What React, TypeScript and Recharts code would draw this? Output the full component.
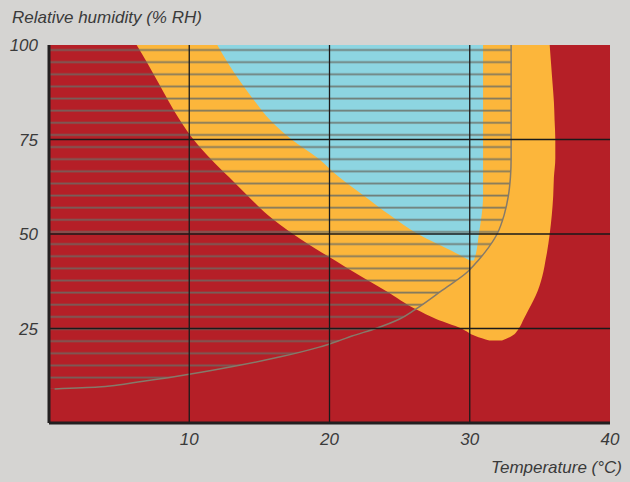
import React from 'react';
import { ComposedChart, Area, Line, XAxis, YAxis, CartesianGrid, ReferenceLine } from 'recharts';

// Tick labels
const xTicks = [10, 20, 30, 40];
const yTicks = [25, 50, 75, 100];
const xGrid = [10, 20, 30];
const yGrid = [25, 50, 75];

// Common relative-humidity levels (% RH) at which zone boundaries were read (temperature, °C)
const rhLevels = [9, 9.5, 10, 11, 12, 13, 15, 17.5, 20, 21.8, 23, 25, 27.5, 30, 35, 40, 43, 45, 50, 55, 60, 65, 70, 75, 80, 85, 90, 95, 100];

// Yellow zone: left and right temperature boundaries
const yellowLeft = [null, null, null, null, null, null, null, null, null, 31.4, 30.4, 29.4, 27.6, 26.2, 24.0, 21.7, 20.4, 19.5, 17.4, 15.6, 14.2, 12.85, 11.5, 10.3, 9.35, 8.55, 7.8, 7.05, 6.25];
const yellowRight = [null, null, null, null, null, null, null, null, null, 32.3, 33.0, 33.5, 33.85, 34.2, 34.85, 35.25, 35.4, 35.5, 35.7, 35.85, 35.95, 36.0, 36.1, 36.1, 36.05, 36.0, 35.9, 35.8, 35.7];

// Blue zone: left and right temperature boundaries
const blueLeft = [null, null, null, null, null, null, null, null, null, null, null, null, null, null, null, null, 30.0, 29.0, 26.3, 24.3, 22.5, 20.7, 19.2, 17.3, 15.8, 14.7, 13.7, 12.8, 12.0];
const blueRight = [null, null, null, null, null, null, null, null, null, null, null, null, null, null, null, null, 30.3, 30.45, 30.65, 30.85, 30.95, 30.95, 30.95, 30.95, 30.95, 30.95, 30.95, 30.95, 30.95];

// Hatched zone: right edge (temperature) of the comfort-curve envelope
const hatchEdge = [0.4, 3.5, 4.8, 6.6, 8.5, 10.2, 13.2, 16.5, 19.2, 20.7, 21.6, 23.3, 25.0, 26.1, 28.0, 29.85, 30.6, 31.05, 31.95, 32.45, 32.75, 32.9, 32.95, 32.95, 32.95, 32.95, 32.95, 32.95, 32.95];

const data = rhLevels.map((rh, i) => ({
  rh,
  yellow: yellowLeft[i] == null ? null : [yellowLeft[i], yellowRight[i]],
  blue: blueLeft[i] == null ? null : [blueLeft[i], blueRight[i]],
  hatch: hatchEdge[i],
}));

const RED = '#b51f27';
const YELLOW = '#fcb63b';
const BLUE = '#8dd5e1';
const BG = '#d5d4d2';
const FONT = '"Liberation Sans", Arial, sans-serif';
const tickStyle = { fill: '#3a3a3a', fontSize: 17, fontStyle: 'italic', fontFamily: FONT };

export default function App() {
  return (
    <div style={{ position: 'absolute', left: 0, top: 0, width: 630, height: 482, background: BG, overflow: 'hidden' }}>
      <ComposedChart
        width={630}
        height={482}
        data={data}
        layout="vertical"
        margin={{ top: 45, right: 20, bottom: 29, left: 0 }}
      >
        <defs>
          <pattern id="hatch" patternUnits="userSpaceOnUse" x="0" y="0" width="20" height="12.13">
            <rect x="0" y="0.6" width="20" height="1.8" fill="rgba(105,108,100,0.82)" />
          </pattern>
        </defs>
        <CartesianGrid fill={RED} fillOpacity={1} horizontal={false} vertical={false} stroke="none" />
        <XAxis
          type="number"
          domain={[0, 40]}
          ticks={xTicks}
          allowDataOverflow
          height={30}
          tickLine={false}
          tickSize={0}
          tickMargin={10}
          axisLine={{ stroke: '#231f20', strokeWidth: 3 }}
          tick={tickStyle}
        />
        <YAxis
          type="number"
          dataKey="rh"
          domain={[0, 100]}
          ticks={yTicks}
          reversed
          allowDataOverflow
          width={49}
          tickLine={false}
          tickSize={0}
          tickMargin={11}
          axisLine={{ stroke: '#231f20', strokeWidth: 3 }}
          tick={tickStyle}
        />
        <Area dataKey="yellow" type="monotoneY" fill={YELLOW} fillOpacity={1} stroke="none" dot={false} activeDot={false} isAnimationActive={false} />
        <Area dataKey="blue" type="monotoneY" fill={BLUE} fillOpacity={1} stroke="none" dot={false} activeDot={false} isAnimationActive={false} />
        <Area dataKey="hatch" type="monotoneY" fill="url(#hatch)" fillOpacity={1} stroke="none" dot={false} activeDot={false} isAnimationActive={false} />
        <Line dataKey="hatch" type="monotoneY" stroke="#857a6a" strokeWidth={1.5} dot={false} activeDot={false} isAnimationActive={false} />
        {xGrid.map((v) => (
          <ReferenceLine key={'x' + v} x={v} stroke="#1a1a1a" strokeWidth={1.3} />
        ))}
        {yGrid.map((v) => (
          <ReferenceLine key={'y' + v} y={v} stroke="#1a1a1a" strokeWidth={1.3} />
        ))}
      </ComposedChart>
      <div style={{ position: 'absolute', left: 12, top: 8.6, fontFamily: FONT, fontStyle: 'italic', fontSize: 17, lineHeight: '17px', color: '#3a3a3a', whiteSpace: 'nowrap' }}>
        Relative humidity (% RH)
      </div>
      <div style={{ position: 'absolute', right: 8, top: 458.6, fontFamily: FONT, fontStyle: 'italic', fontSize: 17, lineHeight: '17px', color: '#3a3a3a', whiteSpace: 'nowrap' }}>
        Temperature (°C)
      </div>
    </div>
  );
}
